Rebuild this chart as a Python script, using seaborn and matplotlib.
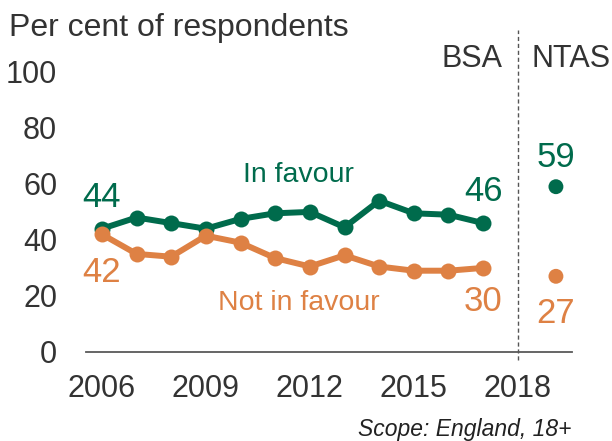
import matplotlib
matplotlib.use("Agg")
import matplotlib.pyplot as plt
import seaborn as sns
import pandas as pd

# BSA survey years and results
years = [2006, 2007, 2008, 2009, 2010, 2011, 2012, 2013, 2014, 2015, 2016, 2017]
in_favour = [44, 48, 46, 44, 47.5, 49.5, 50, 44.5, 54, 49.5, 49, 46]
not_in_favour = [42, 35, 34, 41.5, 39, 33.5, 30.5, 34.5, 30.5, 29, 29, 30]

# NTAS result (plotted after the survey break)
ntas_year = [2019.1]
ntas_in_favour = [59]
ntas_not_in_favour = [27]

x_ticks = [2006, 2009, 2012, 2015, 2018]
y_ticks = [0, 20, 40, 60, 80, 100]

GREEN = "#006B4C"
ORANGE = "#DE8144"
TEXT = "#333333"

sns.set_theme(style="white")
plt.rcParams["font.family"] = ["Liberation Sans", "DejaVu Sans"]

bsa = pd.DataFrame({
    "year": years * 2,
    "value": in_favour + not_in_favour,
    "series": ["In favour"] * len(years) + ["Not in favour"] * len(years),
})
ntas = pd.DataFrame({
    "year": ntas_year * 2,
    "value": ntas_in_favour + ntas_not_in_favour,
    "series": ["In favour", "Not in favour"],
})
palette = {"In favour": GREEN, "Not in favour": ORANGE}

fig = plt.figure(figsize=(6.12, 4.41), dpi=100)
ax = fig.add_axes([0.141, 0.202, 0.794, 0.635])

sns.lineplot(data=bsa, x="year", y="value", hue="series", palette=palette,
             marker="o", markersize=11.5, markeredgewidth=0, linewidth=4.3,
             legend=False, ax=ax, clip_on=False)
sns.scatterplot(data=ntas, x="year", y="value", hue="series", palette=palette,
                s=115, linewidth=0, legend=False, ax=ax, clip_on=False)

ax.set_xlim(2005.55, 2019.57)
ax.set_ylim(0, 100)
ax.set_xticks(x_ticks)
ax.set_yticks(y_ticks)
ax.set_xticklabels([str(t) for t in x_ticks], fontsize=22, color=TEXT)
ax.set_yticklabels([str(t) for t in y_ticks], fontsize=22, color=TEXT)
ax.tick_params(axis="both", length=0)
ax.tick_params(axis="x", pad=16)
ax.tick_params(axis="y", pad=21)
ax.set_xlabel("")
ax.set_ylabel("")
for side in ["top", "right", "left"]:
    ax.spines[side].set_visible(False)
ax.spines["bottom"].set_color("#595959")
ax.spines["bottom"].set_linewidth(1.3)

# Survey break
ax.plot([2018, 2018], [-3, 115], clip_on=False,
        color="#555555", linestyle=(0, (3, 2)), linewidth=1)

VAL = 25
# Value labels (baseline placed)
ax.text(years[0], in_favour[0] + 7.6, f"{in_favour[0]:g}", color=GREEN,
        fontsize=VAL, ha="center", va="baseline")
ax.text(years[0], not_in_favour[0] - 17, f"{not_in_favour[0]:g}", color=ORANGE,
        fontsize=VAL, ha="center", va="baseline")
ax.text(years[-1], in_favour[-1] + 8, f"{in_favour[-1]:g}", color=GREEN,
        fontsize=VAL, ha="center", va="baseline")
ax.text(years[-1], not_in_favour[-1] - 15.5, f"{not_in_favour[-1]:g}", color=ORANGE,
        fontsize=VAL, ha="center", va="baseline")
ax.text(ntas_year[0], ntas_in_favour[0] + 7.2, f"{ntas_in_favour[0]:g}", color=GREEN,
        fontsize=VAL, ha="center", va="baseline")
ax.text(ntas_year[0], ntas_not_in_favour[0] - 16.5, f"{ntas_not_in_favour[0]:g}", color=ORANGE,
        fontsize=VAL, ha="center", va="baseline")

# Series names
ax.text(2011.68, 60.8, "In favour", color=GREEN, fontsize=20.5, ha="center", va="baseline")
ax.text(2011.68, 15.0, "Not in favour", color=ORANGE, fontsize=20.5, ha="center", va="baseline")

# Source headers
ax.text(2017.55, 101.7, "BSA", color=TEXT, fontsize=22, ha="right", va="baseline")
ax.text(2018.4, 101.7, "NTAS", color=TEXT, fontsize=22, ha="left", va="baseline")

fig.text(9 / 612, 1 - 36 / 441, "Per cent of respondents", color=TEXT,
         fontsize=23, ha="left", va="baseline")
fig.text(572 / 612, 1 - 436 / 441, "Scope: England, 18+", color="#222222",
         fontsize=16.5, style="italic", ha="right", va="baseline")

fig.savefig("out.png", dpi=100)
